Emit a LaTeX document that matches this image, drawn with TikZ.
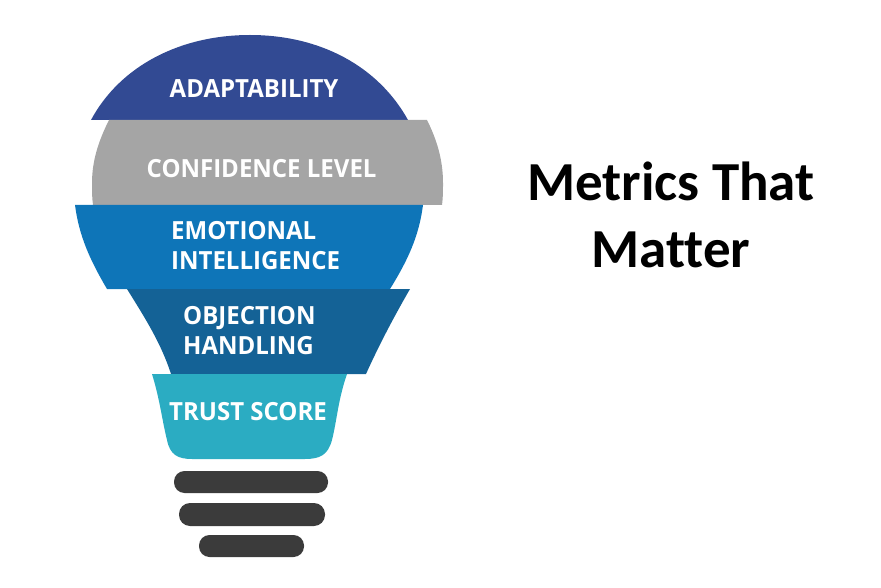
\documentclass[tikz,border=0pt]{standalone}
\usepackage{fontspec}
\setmainfont{Open Sans}
\newfontfamily\labelfont[BoldFeatures={FakeStretch=0.96}]{Open Sans}
\newfontfamily\titlefont[Ligatures=NoCommon,Contextuals=NoAlternate]{Carlito}
\definecolor{cnavy}{HTML}{324A93}
\definecolor{cgray}{HTML}{A5A5A5}
\definecolor{cblue}{HTML}{0E75B8}
\definecolor{cdeep}{HTML}{146296}
\definecolor{cteal}{HTML}{2BACC2}
\definecolor{cbar}{HTML}{3B3B3B}
\tikzset{
  lbl/.style={text=white,inner sep=0pt,anchor=base west,font=\labelfont\bfseries\fontsize{25}{29.5}\selectfont},
  lbl2/.style={text=white,inner sep=0pt,anchor=west,align=left,font=\labelfont\bfseries\fontsize{25}{29.5}\selectfont},
  ttl/.style={text=black,inner sep=0pt,anchor=base,font=\titlefont\bfseries\fontsize{55}{60}\selectfont},
  barshape/.style={fill=cbar,rounded corners=10.5pt}
}
\begin{document}
\begin{tikzpicture}[x=1pt,y=-1pt]
\useasboundingbox (0,0) rectangle (881,588);
% shapes
\fill[cnavy] (91,120) .. controls (120,66) and (180,35) .. (250,35) .. controls (320,35) and (378,66) .. (408,120) -- cycle;
\fill[cgray] (109,120) -- (427,120) .. controls (437,140) and (443,160) .. (443,183) .. controls (443,191) and (443,198) .. (442,205) -- (93,205) .. controls (92,198) and (92,191) .. (92,183) .. controls (92,160) and (99,140) .. (109,120) -- cycle;
\fill[cblue] (75,205) -- (423,205) .. controls (419,236) and (408,260) .. (390,289) -- (107,289) .. controls (90,260) and (79,236) .. (75,205) -- cycle;
\fill[cdeep] (127,289) -- (410,289) .. controls (395,315) and (380,343) .. (366,374) -- (171,374) .. controls (161,343) and (145,318) .. (127,289) -- cycle;
\fill[cteal] (152,374) -- (347,374) .. controls (338,400) and (337,420) .. (332,440) .. controls (328,455) and (320,459) .. (305,459) -- (192,459) .. controls (178,459) and (170,455) .. (167,440) .. controls (162,420) and (160,400) .. (152,374) -- cycle;
\fill[barshape] (174,471) rectangle (328,493);
\fill[barshape,rounded corners=11pt] (179,503) rectangle (325,526);
\fill[barshape] (199,535) rectangle (304,557);
% labels
\node[lbl] (adapt) at (169.5,97.7) {ADAPTABILITY};
\node[lbl] (conf) at (146.5,177.7) {CONFIDENCE LEVEL};
\node[lbl2] (emo) at (171,245.5) {EMOTIONAL\\INTELLIGENCE};
\node[lbl2] (obj) at (183,330.5) {OBJECTION\\HANDLING};
\node[lbl] (trust) at (169,420) {TRUST SCORE};
\node[ttl] (t1) at (671,201) {Metrics That};
\node[ttl] (t2) at (671,267) {Matter};
\end{tikzpicture}
\end{document}
